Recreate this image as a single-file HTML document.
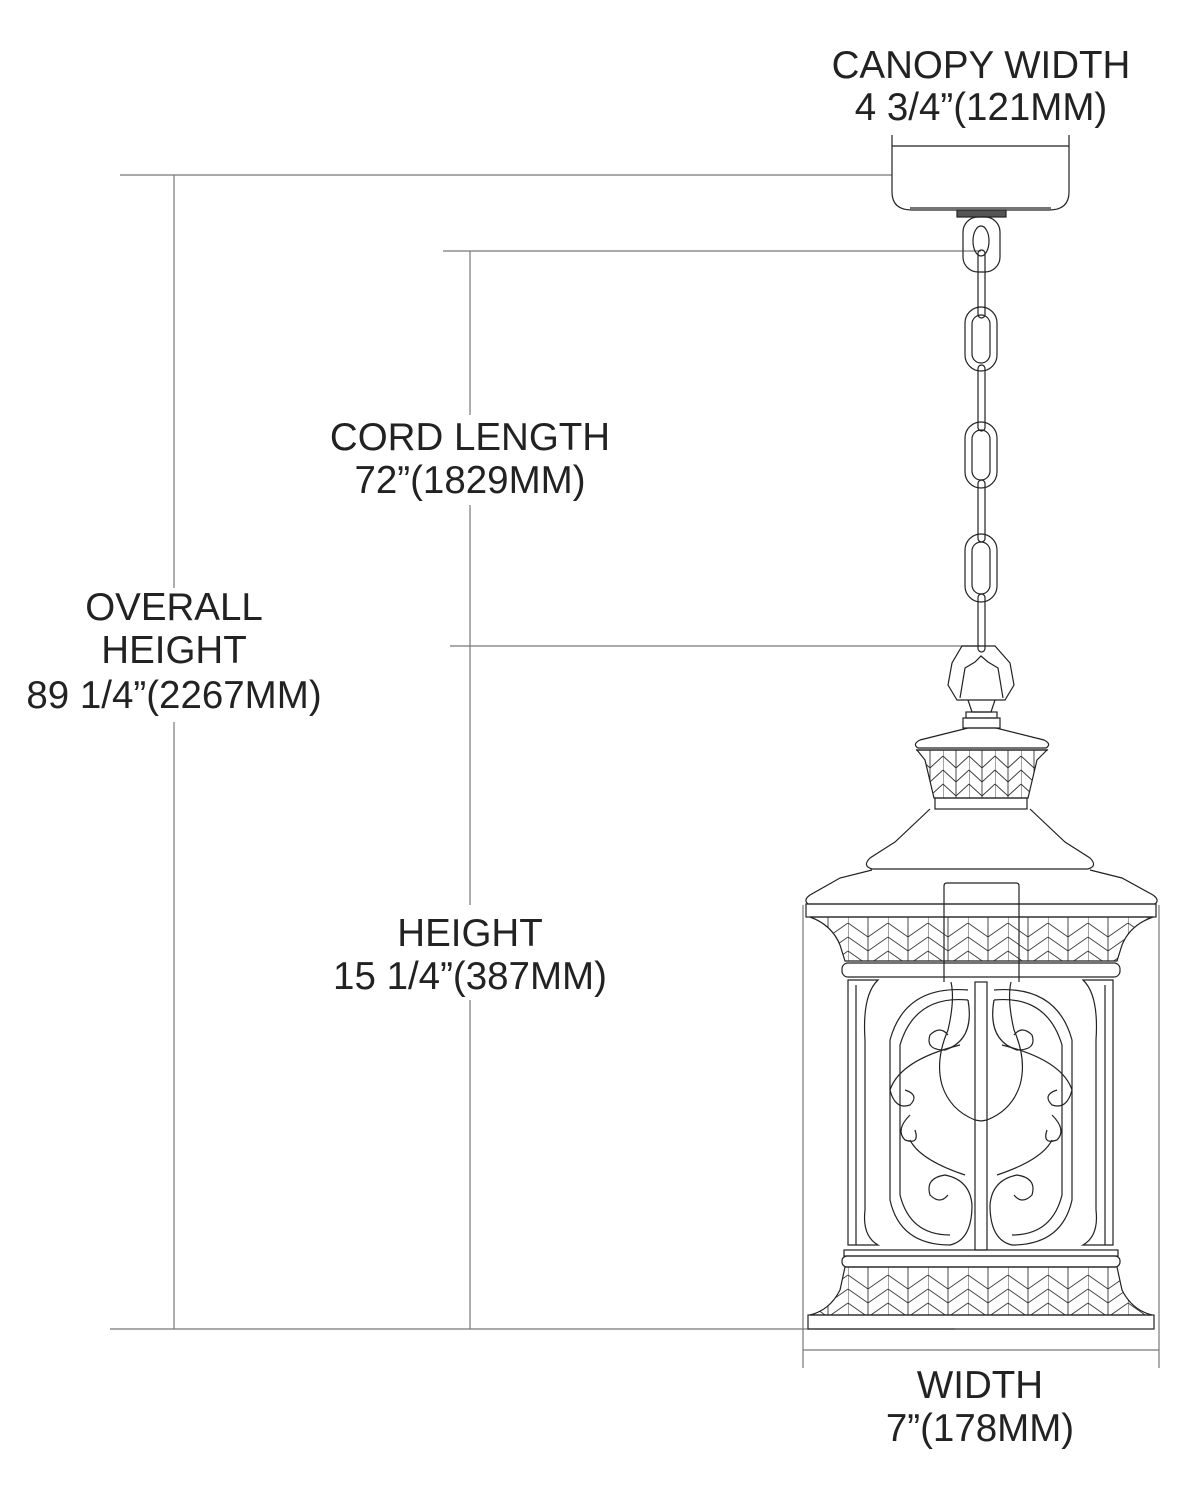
<!DOCTYPE html>
<html><head><meta charset="utf-8"><style>
html,body{margin:0;padding:0;background:#fff;}
svg{display:block;}
text{font-family:"Liberation Sans",sans-serif;font-size:38.5px;fill:#222;text-anchor:middle;}
</style></head><body>
<svg width="1190" height="1500" viewBox="0 0 1190 1500" xmlns="http://www.w3.org/2000/svg">
<defs>
<pattern id="chev" x="808" y="917" width="40" height="44" patternUnits="userSpaceOnUse">
<path d="M0 0V44M20 0V44M0 6L20 20L40 6M0 20L20 34L40 20M0 34L20 48L40 34" stroke="#333" stroke-width="0.9" fill="none"/>
</pattern>
<pattern id="chevb" x="808" y="1267" width="40" height="48" patternUnits="userSpaceOnUse">
<path d="M0 0V48M20 0V48M0 8L20 22L40 8M0 22L20 36L40 22M0 36L20 50L40 36" stroke="#333" stroke-width="0.9" fill="none"/>
</pattern>
<pattern id="chev2" x="917" y="750" width="26" height="48" patternUnits="userSpaceOnUse">
<path d="M0 0V48M13 0V48M0 6L13 18L26 6M0 20L13 32L26 20M0 34L13 46L26 34" stroke="#333" stroke-width="0.9" fill="none"/>
</pattern>
</defs>
<g fill="none" stroke="#777" stroke-width="1.2">
<line x1="120" y1="175" x2="892" y2="175"/>
<line x1="443" y1="251" x2="981" y2="251"/>
<line x1="450" y1="646" x2="980" y2="646"/>
<line x1="110" y1="1329" x2="955" y2="1329"/>
<line x1="174" y1="175" x2="174" y2="588"/>
<line x1="174" y1="722" x2="174" y2="1329"/>
<line x1="470" y1="251" x2="470" y2="415"/>
<line x1="470" y1="505" x2="470" y2="905"/>
<line x1="470" y1="1000" x2="470" y2="1329"/>
<line x1="803" y1="905" x2="803" y2="1368"/>
<line x1="1159" y1="905" x2="1159" y2="1368"/>
<line x1="803" y1="1350" x2="1159" y2="1350"/>
</g>
<g fill="none" stroke="#222" stroke-width="1.2">
<path d="M892 135V192Q892 210 912 210H1049Q1069 210 1069 192V135"/>
<line x1="892" y1="146" x2="1069" y2="146"/>
<line x1="910" y1="208" x2="1051" y2="208"/>
<rect x="957" y="210" width="49" height="7" fill="#555"/>
<rect x="963" y="217" width="37" height="55" rx="15"/>
<ellipse cx="981" cy="241" rx="8" ry="15"/>
<rect x="978" y="250" width="7" height="68" rx="3.5"/>
<rect x="965" y="307" width="32" height="64" rx="16"/><rect x="972" y="315" width="18" height="48" rx="9"/>
<rect x="978" y="365" width="7" height="66" rx="3.5"/>
<rect x="965" y="422" width="32" height="66" rx="16"/><rect x="972" y="430" width="18" height="50" rx="9"/>
<rect x="978" y="480" width="7" height="62" rx="3.5"/>
<rect x="965" y="534" width="32" height="68" rx="16"/><rect x="972" y="542" width="18" height="52" rx="9"/>
<rect x="978" y="594" width="7" height="58" rx="3.5"/>
<path d="M962 646L995 646L1010 663L1014 685L1005 700L957 700L948 685L952 663Z"/>
<path d="M960 698L965 668L975 662L981 656L988 662L998 668L1003 698"/>
<path d="M968 700L972 712H991L995 700"/>
<rect x="966" y="712" width="31" height="6"/>
<rect x="963" y="718" width="37" height="10"/>
<path d="M968 728L920 740Q912 744 918 748H1046Q1052 744 1044 740L996 728Z"/>
<line x1="916" y1="750" x2="1048" y2="750"/>
<path d="M917 750L925 760L934 798H1028L1037 760L1047 750Z" fill="url(#chev2)"/>
<rect x="935" y="798" width="92" height="11"/>
<path d="M930 809L895 842L870 858Q862 866 872 869H1088Q1098 866 1090 858L1065 842L1030 809"/>
<path d="M872 870L840 878L810 895Q803 900 808 904H1155Q1160 900 1153 895L1122 878L1090 870"/>
<rect x="806" y="904" width="350" height="13"/>
<path d="M810 917Q832 925 840 945L845 961H1117L1122 945Q1130 925 1153 917Z" fill="url(#chev)"/>
<rect x="842" y="963" width="278" height="14" rx="6"/>
<path d="M944 982V886Q944 883 947 883H1016Q1019 883 1019 886V982"/>
<path d="M951 982Q955 1000 948 1030Q935 1060 942 1085Q950 1110 975 1120L981 1121L987 1120Q1012 1110 1020 1085Q1027 1060 1014 1030Q1007 1000 1011 982"/>
<path d="M848 980H878Q862 995 865 1040V1210Q862 1236 878 1245H848Z"/>
<path d="M1113 980H1083Q1099 995 1096 1040V1210Q1099 1236 1083 1245H1113Z"/>
<line x1="856" y1="985" x2="856" y2="1245"/>
<line x1="1105" y1="985" x2="1105" y2="1245"/>
<rect x="975" y="982" width="12" height="268"/>
<path d="M968 990Q905 985 890 1040V1200Q900 1245 950 1245Q972 1240 972 1205Q970 1180 945 1175Q925 1178 930 1195Q940 1205 948 1195"/>
<path d="M968 1000Q915 995 900 1045V1195Q910 1235 950 1235"/>
<path d="M968 1000Q975 1040 945 1050Q925 1050 930 1035Q940 1025 948 1035"/>
<path d="M960 1045Q900 1060 890 1090Q895 1110 910 1105Q920 1095 905 1090"/>
<path d="M910 1115Q895 1130 905 1140Q920 1145 915 1130"/>
<path d="M910 1140Q920 1160 965 1175"/>
<path d="M994 990Q1057 985 1072 1040V1200Q1062 1245 1012 1245Q990 1240 990 1205Q992 1180 1017 1175Q1037 1178 1032 1195Q1022 1205 1014 1195"/>
<path d="M994 1000Q1047 995 1062 1045V1195Q1052 1235 1012 1235"/>
<path d="M994 1000Q987 1040 1017 1050Q1037 1050 1032 1035Q1022 1025 1014 1035"/>
<path d="M1002 1045Q1062 1060 1072 1090Q1067 1110 1052 1105Q1042 1095 1057 1090"/>
<path d="M1052 1115Q1067 1130 1057 1140Q1042 1145 1047 1130"/>
<path d="M1052 1140Q1042 1160 997 1175"/>
<rect x="844" y="1250" width="274" height="6"/>
<rect x="842" y="1256" width="278" height="11" rx="5"/>
<path d="M845 1267L840 1290Q830 1310 810 1315H1152Q1132 1310 1122 1290L1117 1267Z" fill="url(#chevb)"/>
<rect x="808" y="1315" width="346" height="14"/>
</g>
<text x="981" y="78">CANOPY WIDTH</text>
<text x="981" y="120">4 3/4”(121MM)</text>
<text x="470" y="450">CORD LENGTH</text>
<text x="470" y="493">72”(1829MM)</text>
<text x="174" y="620">OVERALL</text>
<text x="174" y="663">HEIGHT</text>
<text x="174" y="708">89 1/4”(2267MM)</text>
<text x="470" y="946">HEIGHT</text>
<text x="470" y="989">15 1/4”(387MM)</text>
<text x="980" y="1398">WIDTH</text>
<text x="980" y="1441">7”(178MM)</text>
</svg>
</body></html>
